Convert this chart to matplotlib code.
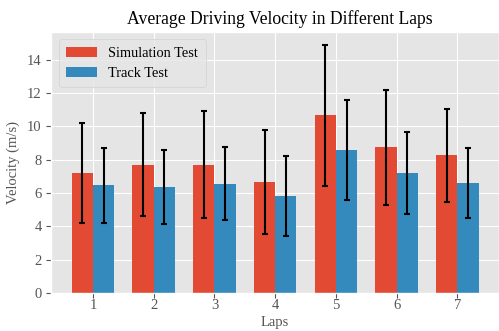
import matplotlib
matplotlib.use("Agg")
import matplotlib.pyplot as plt
import numpy as np

plt.style.use("ggplot")
plt.rcParams['font.family'] = ['Liberation Serif', 'DejaVu Serif']

laps = ["1", "2", "3", "4", "5", "6", "7"]
sim_mean = [7.2, 7.7, 7.7, 6.65, 10.65, 8.75, 8.25]
sim_err = [3.0, 3.1, 3.2, 3.1, 4.25, 3.45, 2.8]
track_mean = [6.45, 6.35, 6.55, 5.8, 8.6, 7.2, 6.6]
track_err = [2.25, 2.2, 2.2, 2.4, 3.0, 2.45, 2.1]

fig, ax = plt.subplots(figsize=(4.99, 3.31), dpi=100)
x = np.arange(1, len(laps) + 1)
w = 0.35
ekw = dict(ecolor="black", elinewidth=1.5, capthick=1.5)
ax.bar(x - w/2, sim_mean, w, yerr=sim_err, capsize=2.4, label="Simulation Test", error_kw=ekw)
ax.bar(x + w/2, track_mean, w, yerr=track_err, capsize=2.4, label="Track Test", error_kw=ekw)
ax.set_xticks(x)
ax.set_xticklabels(laps)
ax.set_xlabel("Laps", fontsize=10.5, labelpad=3)
ax.set_ylabel("Velocity (m/s)", fontsize=10.5, labelpad=5)
ax.set_title("Average Driving Velocity in Different Laps", fontsize=12.7, x=0.51)
ax.tick_params(labelsize=10.5)
ax.tick_params(axis="x", pad=0.8)
ax.legend(loc="upper left", fontsize=10.4, handlelength=2.15, borderpad=0.5)
fig.subplots_adjust(left=0.103, right=1.0, top=0.903, bottom=0.115)
fig.savefig("out.png", dpi=100)
